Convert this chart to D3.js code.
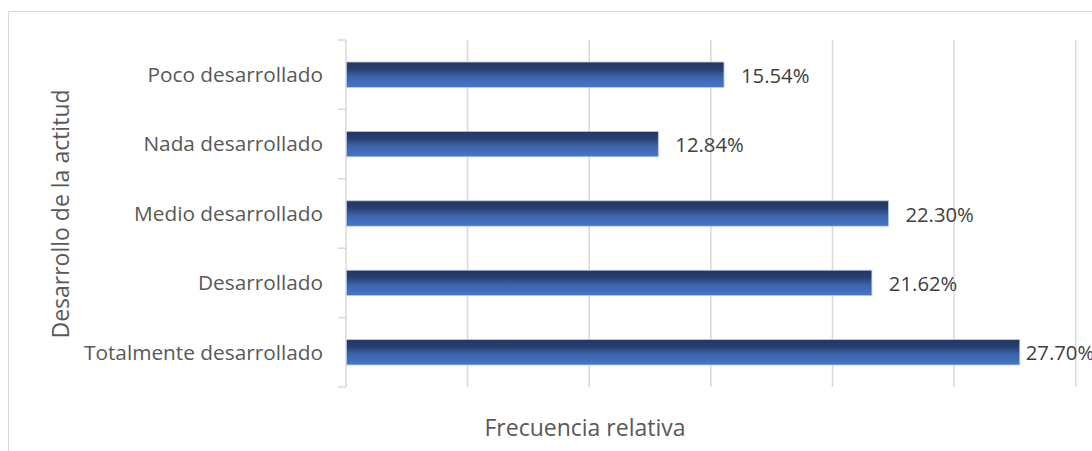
<!DOCTYPE html>
<html>
<head>
<meta charset="utf-8">
<script src="https://cdn.jsdelivr.net/npm/d3@7"></script>
<style>
html,body{margin:0;padding:0;background:#fff;}
svg{display:block;}
text{font-family:"Open Sans","Noto Sans",sans-serif;}
</style>
</head>
<body>
<svg id="c" width="1092" height="451"></svg>
<script>
const categories = ["Poco desarrollado","Nada desarrollado","Medio desarrollado","Desarrollado","Totalmente desarrollado"];
const values = [15.54, 12.84, 22.30, 21.62, 27.70];
const valueLabels = ["15.54%","12.84%","22.30%","21.62%","27.70%"];
const xTicks = [0,5,10,15,20,25,30];
const xTitle = "Frecuencia relativa";
const yTitle = "Desarrollo de la actitud";

const svg = d3.select("#c");
const W = 1092, H = 451;
const plot = {left:346, right:1075.7, top:40, bottom:387};

// outer chart border
svg.append("rect").attr("x",8.5).attr("y",11.5).attr("width",W+20).attr("height",H+20)
  .attr("fill","#fff").attr("stroke","#d9d9d9").attr("stroke-width",1);

const x = d3.scaleLinear().domain([0,30]).range([plot.left, plot.right]);
const y = d3.scaleBand().domain(categories).range([plot.top, plot.bottom]).padding(0);

// gradient
const defs = svg.append("defs");
const g = defs.append("linearGradient").attr("id","bg").attr("x1",0).attr("y1",0).attr("x2",0).attr("y2",1);
[[0,"#213761"],[0.28,"#283f6e"],[0.58,"#3b64ab"],[1,"#4676c8"]].forEach(([o,c])=>g.append("stop").attr("offset",o).attr("stop-color",c));

// gridlines
svg.append("g").selectAll("line").data(xTicks.slice(1)).join("line")
  .attr("x1",d=>x(d)).attr("x2",d=>x(d)).attr("y1",plot.top).attr("y2",plot.bottom)
  .attr("stroke","#d9d9d9").attr("stroke-width",1.5);

// y axis line and ticks
const bounds = categories.map(c=>y(c)).concat([plot.bottom]);
svg.append("line").attr("x1",plot.left).attr("x2",plot.left).attr("y1",plot.top).attr("y2",plot.bottom)
  .attr("stroke","#d9d9d9").attr("stroke-width",1.5);
svg.append("g").selectAll("line").data(bounds).join("line")
  .attr("x1",plot.left-8).attr("x2",plot.left).attr("y1",d=>d).attr("y2",d=>d)
  .attr("stroke","#d9d9d9").attr("stroke-width",1.5);

// bars
const bh = y.bandwidth()*0.365;
svg.append("g").selectAll("rect").data(values).join("rect")
  .attr("x",x(0)+0.5)
  .attr("y",(d,i)=>y(categories[i])+y.bandwidth()/2-bh/2)
  .attr("width",d=>x(d)-x(0)-0.5)
  .attr("height",bh)
  .attr("fill","url(#bg)")
  .attr("stroke","#b4c6e7").attr("stroke-width",0.8);

// category labels
svg.append("g").selectAll("text").data(categories).join("text")
  .attr("x",323).attr("y",d=>y(d)+y.bandwidth()/2)
  .attr("dy","0.35em").attr("text-anchor","end")
  .attr("font-size",20.8).attr("fill","#595959").text(d=>d);

// value labels (pulled in near the chart's right edge, as in the original)
svg.append("g").selectAll("text").data(values).join("text")
  .attr("x",d=>Math.min(x(d)+17, x(d)+6 > 1020 ? x(d)+6 : x(d)+17))
  .attr("y",(d,i)=>y(categories[i])+y.bandwidth()/2+1)
  .attr("dy","0.35em").attr("text-anchor","start")
  .attr("font-size",20.3).attr("fill","#404040").text((d,i)=>valueLabels[i]);

// axis titles
svg.append("text").attr("x",585).attr("y",428).attr("dy","0.35em").attr("text-anchor","middle")
  .attr("font-size",23).attr("fill","#595959").text(xTitle);
svg.append("text").attr("transform","translate(61,214) rotate(-90)").attr("dy","0.35em")
  .attr("text-anchor","middle").attr("font-size",23).attr("fill","#595959").text(yTitle);
</script>
</body>
</html>
